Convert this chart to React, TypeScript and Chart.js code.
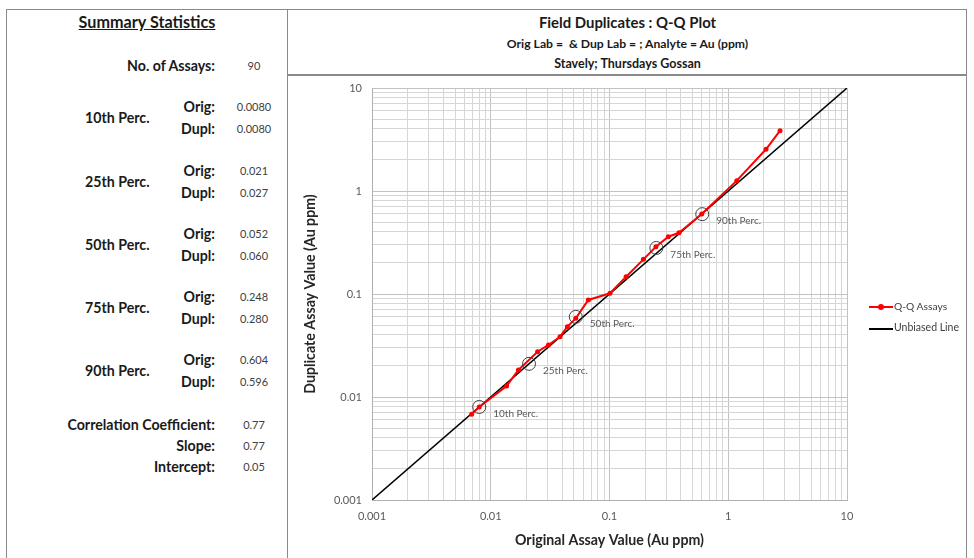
import React, { useEffect, useRef } from "react";
import { Chart, registerables } from "chart.js";

Chart.register(...registerables);

// ---- Data ----
const origValues = [0.0069, 0.008, 0.0136, 0.0171, 0.0248, 0.0306, 0.0383, 0.0442, 0.052, 0.0663, 0.101, 0.138, 0.193, 0.246, 0.313, 0.385, 0.598, 1.18, 2.08, 2.73];
const dupValues = [0.0068, 0.008, 0.0128, 0.0183, 0.0275, 0.032, 0.0385, 0.0482, 0.058, 0.0875, 0.1016, 0.147, 0.217, 0.288, 0.36, 0.393, 0.598, 1.26, 2.54, 3.85];
const unbiasedX = [0.001, 10];
const unbiasedY = [0.001, 10];
const percentileLabels = ["10th Perc.", "25th Perc.", "50th Perc.", "75th Perc.", "90th Perc."];
const percentileOrig = [0.008, 0.021, 0.052, 0.248, 0.604];
const percentileMarkY = [0.008, 0.021, 0.06, 0.28, 0.596];
const axisLabels = [0.001, 0.01, 0.1, 1, 10];

const statPercNames = ["10th Perc.", "25th Perc.", "50th Perc.", "75th Perc.", "90th Perc."];
const statOrig = ["0.0080", "0.021", "0.052", "0.248", "0.604"];
const statDupl = ["0.0080", "0.027", "0.060", "0.280", "0.596"];
const assayCount = "90";
const extraStatNames = ["Correlation Coefficient:", "Slope:", "Intercept:"];
const extraStatValues = ["0.77", "0.77", "0.05"];

const FONT = "Lato, 'Open Sans', sans-serif";

function gridValues(): number[] {
  const out: number[] = [];
  for (let e = -3; e <= 0; e++) {
    for (let m = 1; m <= 9; m++) out.push(Number((m * Math.pow(10, e)).toPrecision(6)));
  }
  out.push(10);
  return out;
}

function isPow10(v: number) {
  const l = Math.log10(v);
  return Math.abs(l - Math.round(l)) < 1e-9;
}

const percLabelPlugin = {
  id: "percLabels",
  afterDatasetsDraw(chart: any) {
    const meta = chart.getDatasetMeta(2);
    const ctx = chart.ctx;
    ctx.save();
    ctx.font = `10px ${FONT}`;
    ctx.fillStyle = "#595959";
    ctx.textAlign = "left";
    ctx.textBaseline = "middle";
    meta.data.forEach((pt: any, i: number) => {
      ctx.fillText(percentileLabels[i], pt.x + 14, pt.y + 7);
    });
    ctx.restore();
  },
};

function QQChart() {
  const ref = useRef<HTMLCanvasElement | null>(null);
  useEffect(() => {
    if (!ref.current) return;
    const ticksList = gridValues();
    const scaleCommon = (title: string, isY: boolean) => ({
      type: "logarithmic" as const,
      min: 0.001,
      max: 10,
      afterBuildTicks: (scale: any) => {
        scale.ticks = ticksList.map((v) => ({ value: v, major: isPow10(v) }));
      },
      afterFit: (scale: any) => {
        if (isY) {
          scale.width = 82;
          scale.paddingTop = 0;
          scale.paddingBottom = 0;
        } else {
          scale.height = 58;
        }
      },
      grid: {
        drawTicks: false,
        color: (c: any) => (c.tick && isPow10(c.tick.value) ? "#c2c2c2" : "#d6d6d6"),
        lineWidth: 1,
      },
      border: { color: "#b0b0b0", width: 1 },
      ticks: {
        autoSkip: false,
        maxRotation: 0,
        padding: 10,
        color: "#595959",
        font: { family: FONT, size: 11 },
        callback: (v: any) => {
          const n = Number(v);
          const hit = axisLabels.find((a) => Math.abs(a - n) / a < 1e-6);
          return hit !== undefined ? String(hit) : "";
        },
      },
      title: {
        display: true,
        text: title,
        color: "#262626",
        font: { family: FONT, size: 14.2, weight: "bold" as const },
        padding: isY ? { top: 12, bottom: 4 } : { top: 4, bottom: 9 },
      },
    });

    const chart = new Chart(ref.current, {
      type: "scatter",
      data: {
        datasets: [
          {
            label: "Q-Q Assays",
            data: origValues.map((x, i) => ({ x, y: dupValues[i] })),
            showLine: true,
            borderColor: "#ff0000",
            backgroundColor: "#ff0000",
            borderWidth: 2,
            pointRadius: 2.5,
            pointBorderWidth: 0,
            order: 1,
          },
          {
            label: "Unbiased Line",
            data: unbiasedX.map((x, i) => ({ x, y: unbiasedY[i] })),
            showLine: true,
            borderColor: "#000000",
            borderWidth: 1.5,
            pointRadius: 0,
            order: 2,
          },
          {
            label: "Percentiles",
            data: percentileOrig.map((x, i) => ({ x, y: percentileMarkY[i] })),
            showLine: false,
            borderColor: "#404040",
            backgroundColor: "rgba(0,0,0,0)",
            borderWidth: 1,
            pointRadius: 6.5,
            order: 0,
          },
        ],
      },
      options: {
        responsive: false,
        animation: false,
        devicePixelRatio: 1,
        layout: { padding: { top: 12, right: 115, bottom: 0, left: 0 } },
        plugins: { legend: { display: false }, tooltip: { enabled: false } },
        scales: {
          x: { ...scaleCommon("Original Assay Value (Au ppm)", false), position: "bottom" },
          y: { ...scaleCommon("Duplicate Assay Value (Au ppm)", true), position: "left" },
        },
      } as any,
      plugins: [percLabelPlugin],
    });
    return () => chart.destroy();
  }, []);
  return <canvas ref={ref} width={672} height={482} style={{ position: "absolute", left: 290, top: 76, width: 672, height: 482 }} />;
}

const abs = (s: React.CSSProperties): React.CSSProperties => ({ position: "absolute", ...s });

export default function App() {
  useEffect(() => {
    document.body.style.margin = "0";
  }, []);
  const labelStyle: React.CSSProperties = { fontWeight: 700, fontSize: 14.2, color: "#1a1a1a", whiteSpace: "nowrap", lineHeight: "17px" };
  const valStyle: React.CSSProperties = { fontSize: 11, color: "#404040", whiteSpace: "nowrap", width: 60, textAlign: "center", lineHeight: "13px" };
  const percBaseY = [117, 181, 244, 307, 370];
  return (
    <div style={{ position: "relative", width: 974, height: 558, background: "#fff", fontFamily: FONT, overflow: "hidden" }}>
      {/* boxes */}
      <div style={abs({ left: 6, top: 9, width: 282, height: 560, border: "1px solid #8a8a8a", boxSizing: "border-box" })} />
      <div style={abs({ left: 288, top: 9, width: 679, height: 560, border: "1px solid #8a8a8a", borderLeft: "none", boxSizing: "border-box" })} />
      <div style={abs({ left: 288, top: 74, width: 679, height: 2, background: "#8a8a8a" })} />

      {/* left summary */}
      <div style={abs({ left: 6, width: 282, top: 12, textAlign: "center", fontWeight: 700, fontSize: 16.2, textDecoration: "underline", color: "#1a1a1a" })}>Summary Statistics</div>
      <div style={abs({ right: 974 - 215, top: 57, ...labelStyle })}>No. of Assays:</div>
      <div style={abs({ left: 224, top: 59, ...valStyle })}>{assayCount}</div>
      {statPercNames.map((name, i) => (
        <React.Fragment key={name}>
          <div style={abs({ left: 85, top: percBaseY[i] - 8, ...labelStyle })}>{name}</div>
          <div style={abs({ right: 974 - 215, top: percBaseY[i] - 19, ...labelStyle })}>Orig:</div>
          <div style={abs({ right: 974 - 215, top: percBaseY[i] + 3, ...labelStyle })}>Dupl:</div>
          <div style={abs({ left: 224, top: percBaseY[i] - 17, ...valStyle })}>{statOrig[i]}</div>
          <div style={abs({ left: 224, top: percBaseY[i] + 5, ...valStyle })}>{statDupl[i]}</div>
        </React.Fragment>
      ))}
      {extraStatNames.map((name, i) => (
        <React.Fragment key={name}>
          <div style={abs({ right: 974 - 215, top: 416 + i * 21, ...labelStyle })}>{name}</div>
          <div style={abs({ left: 224, top: 418 + i * 21, ...valStyle })}>{extraStatValues[i]}</div>
        </React.Fragment>
      ))}

      {/* header */}
      <div style={abs({ left: 288, width: 679, top: 13, textAlign: "center", fontWeight: 700, fontSize: 14.9, color: "#1a1a1a" })}>Field Duplicates : Q-Q Plot</div>
      <div style={abs({ left: 288, width: 679, top: 36, textAlign: "center", fontWeight: 700, fontSize: 12.2, color: "#1a1a1a", whiteSpace: "pre" })}>{"Orig Lab =  & Dup Lab = ; Analyte = Au (ppm)"}</div>
      <div style={abs({ left: 288, width: 679, top: 56, textAlign: "center", fontWeight: 700, fontSize: 12.5, color: "#1a1a1a" })}>Stavely; Thursdays Gossan</div>

      <QQChart />

      {/* legend */}
      <div style={abs({ left: 869, top: 306, width: 24, height: 2, background: "#ff0000" })} />
      <div style={abs({ left: 878, top: 304, width: 6, height: 6, borderRadius: 3, background: "#ff0000" })} />
      <div style={abs({ left: 894, top: 300, fontSize: 10.3, color: "#404040", whiteSpace: "nowrap" })}>Q-Q Assays</div>
      <div style={abs({ left: 869, top: 328, width: 24, height: 1.5, background: "#000" })} />
      <div style={abs({ left: 894, top: 321, fontSize: 10.5, color: "#404040", whiteSpace: "nowrap" })}>Unbiased Line</div>
    </div>
  );
}
